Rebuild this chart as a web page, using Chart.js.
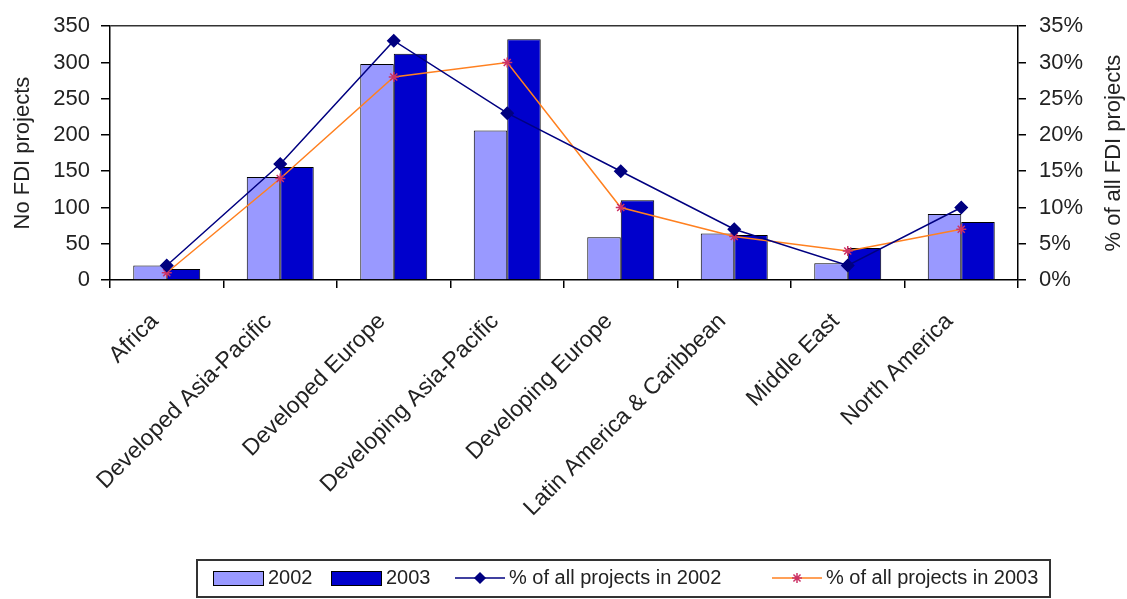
<!DOCTYPE html>
<html>
<head>
<meta charset="utf-8">
<script src="https://cdn.jsdelivr.net/npm/chart.js@4/dist/chart.umd.min.js"></script>
<style>
  html, body { margin: 0; padding: 0; background: #fff; }
  #wrap { width: 1127px; height: 599px; }
</style>
</head>
<body>
<div id="wrap"><canvas id="fdiChart" width="1127" height="599"></canvas></div>
<script>
/* ===== FDI projects by region ===== */

const regions = ['Africa', 'Developed Asia-Pacific', 'Developed Europe', 'Developing Asia-Pacific',
  'Developing Europe', 'Latin America & Caribbean', 'Middle East', 'North America'];
const projects2002 = [20, 142, 298, 206, 59, 64, 23, 91];
const projects2003 = [15, 156, 312, 332, 110, 62, 44, 80];
const share2002 = [2, 16, 33, 23, 15, 7, 2, 10];
const share2003 = [1, 14, 28, 30, 10, 6, 4, 7];
const countTicks = [0, 50, 100, 150, 200, 250, 300, 350];
const shareTicks = [0, 5, 10, 15, 20, 25, 30, 35];

const FONT = "'Liberation Sans', Arial, sans-serif";
const C2002 = '#9999FF';
const C2003 = '#0000CC';
const LINE2002 = '#000080';
const LINE2003 = '#FF8020';
const STAR2003 = '#CC3366';

// right axis title reads bottom-to-top, plus the boxed legend at the bottom
const extrasPlugin = {
  id: 'extras',
  afterDraw(chart) {
    const ctx = chart.ctx;
    const area = chart.chartArea;
    ctx.save();
    ctx.fillStyle = '#222';
    ctx.font = '22px ' + FONT;
    ctx.textAlign = 'center';
    ctx.textBaseline = 'middle';
    ctx.translate(1114, (area.top + area.bottom) / 2);
    ctx.rotate(-Math.PI / 2);
    ctx.fillText('% of all FDI projects', 0, 0);
    ctx.restore();

    // legend
    ctx.save();
    ctx.strokeStyle = '#333';
    ctx.lineWidth = 2;
    ctx.strokeRect(197, 560, 853, 37);
    ctx.font = '20px ' + FONT;
    ctx.fillStyle = '#222';
    ctx.textBaseline = 'middle';
    ctx.textAlign = 'left';
    const cy = 578;
    const items = [
      { x: 213, type: 'bar', color: C2002, text: '2002' },
      { x: 331, type: 'bar', color: C2003, text: '2003' },
      { x: 455, type: 'line', color: LINE2002, marker: 'rectRot', mcolor: LINE2002, text: '% of all projects in 2002' },
      { x: 772, type: 'line', color: LINE2003, marker: 'star', mcolor: STAR2003, text: '% of all projects in 2003' }
    ];
    items.forEach(it => {
      if (it.type === 'bar') {
        ctx.fillStyle = it.color;
        ctx.fillRect(it.x, cy - 7, 50, 14);
        ctx.strokeStyle = '#000';
        ctx.lineWidth = 1;
        ctx.strokeRect(it.x + 0.5, cy - 6.5, 50, 14);
        ctx.fillStyle = '#222';
        ctx.fillText(it.text, it.x + 55, cy);
      } else {
        ctx.strokeStyle = it.color;
        ctx.lineWidth = 1.5;
        ctx.beginPath();
        ctx.moveTo(it.x, cy);
        ctx.lineTo(it.x + 50, cy);
        ctx.stroke();
        ctx.fillStyle = it.mcolor;
        ctx.strokeStyle = it.mcolor;
        Chart.helpers.drawPoint(ctx, {
          pointStyle: it.marker, radius: 5, rotation: 0, borderWidth: 1.5
        }, it.x + 25, cy);
        ctx.fillStyle = '#222';
        ctx.fillText(it.text, it.x + 54, cy);
      }
    });
    ctx.restore();
  }
};

new Chart(document.getElementById('fdiChart').getContext('2d'), {
  data: {
    labels: regions,
    datasets: [
      {
        type: 'line', label: '% of all projects in 2002', data: share2002, yAxisID: 'y1', order: 0,
        borderColor: LINE2002, backgroundColor: LINE2002, borderWidth: 1.5,
        pointStyle: 'rectRot', pointRadius: 6, pointBackgroundColor: LINE2002, pointBorderColor: LINE2002
      },
      {
        type: 'line', label: '% of all projects in 2003', data: share2003, yAxisID: 'y1', order: 0,
        borderColor: LINE2003, backgroundColor: STAR2003, borderWidth: 1.5,
        pointStyle: 'star', pointRadius: 5, pointBorderColor: STAR2003, pointBorderWidth: 1.5
      },
      {
        type: 'bar', label: '2002', data: projects2002, yAxisID: 'y', order: 1,
        backgroundColor: C2002, borderColor: '#000', borderWidth: 1,
        categoryPercentage: 0.59, barPercentage: 1
      },
      {
        type: 'bar', label: '2003', data: projects2003, yAxisID: 'y', order: 1,
        backgroundColor: C2003, borderColor: '#000', borderWidth: 1,
        categoryPercentage: 0.59, barPercentage: 1
      }
    ]
  },
  options: {
    responsive: false,
    animation: false,
    layout: { padding: { top: 24, left: 0, right: 0, bottom: 69 } },
    plugins: {
      legend: { display: false },
      tooltip: { enabled: false }
    },
    scales: {
      x: {
        offset: true,
        afterFit: s => { s.height = 250; },
        grid: { offset: true, drawOnChartArea: false, tickLength: 8, tickColor: '#000', lineWidth: 1.5 },
        border: { color: '#000', width: 1.5 },
        ticks: {
          autoSkip: false, maxRotation: 45, minRotation: 45, padding: 20, labelOffset: -12,
          color: '#222', font: { family: FONT, size: 23 }
        }
      },
      y: {
        position: 'left', min: 0, max: 350,
        afterFit: s => { s.width = 110; },
        afterBuildTicks: s => { s.ticks = countTicks.map(v => ({ value: v })); },
        grid: {
          color: c => (c.tick && c.tick.value === 350 ? '#333' : 'rgba(0,0,0,0)'),
          lineWidth: 1.5, tickColor: '#000', tickLength: 9
        },
        border: { color: '#000', width: 1.5 },
        title: {
          display: true, text: 'No FDI projects', color: '#222',
          font: { family: FONT, size: 22 }, padding: { top: 10, bottom: 0 }
        },
        ticks: { padding: 11, color: '#222', font: { family: FONT, size: 22 } }
      },
      y1: {
        position: 'right', min: 0, max: 35,
        afterFit: s => { s.width = 109; },
        afterBuildTicks: s => { s.ticks = shareTicks.map(v => ({ value: v })); },
        grid: { drawOnChartArea: false, tickColor: '#000', tickLength: 8, lineWidth: 1.5 },
        border: { color: '#000', width: 1.5 },
        ticks: {
          padding: 13, color: '#222', font: { family: FONT, size: 22 },
          callback: v => v + '%'
        }
      }
    }
  },
  plugins: [extrasPlugin]
});
</script>
</body>
</html>
